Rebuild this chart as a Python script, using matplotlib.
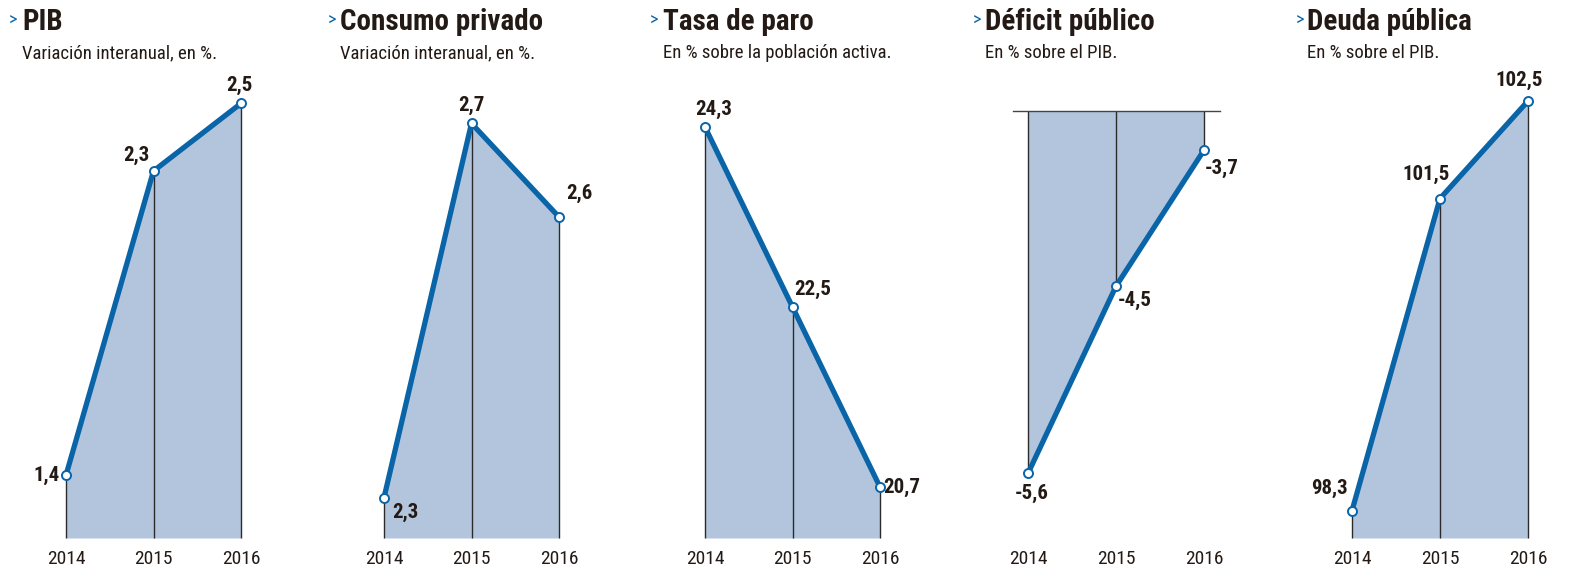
import matplotlib
matplotlib.use('Agg')
import matplotlib.pyplot as plt
from matplotlib import font_manager

# fuente estrecha si existe
fam = 'DejaVu Sans'
for f in ['Liberation Sans Narrow', 'Roboto Condensed', 'Open Sans Condensed']:
    try:
        font_manager.findfont(f, fallback_to_default=False)
        fam = f
        break
    except Exception:
        pass
plt.rcParams['font.family'] = [fam, 'DejaVu Sans']

years = [2014, 2015, 2016]
pib = [1.4, 2.3, 2.5]
consumo = [2.3, 2.7, 2.6]
paro = [24.3, 22.5, 20.7]
deficit = [-5.6, -4.5, -3.7]
deuda = [98.3, 101.5, 102.5]

titles = ['PIB', 'Consumo privado', 'Tasa de paro', 'Déficit público', 'Deuda pública']
subtitles = ['Variación interanual, en %.', 'Variación interanual, en %.',
             'En % sobre la población activa.', 'En % sobre el PIB.', 'En % sobre el PIB.']

W, H = 1586, 572
TXT = '#231a15'
BLUE = '#0a64a8'
FILL = '#b3c5dd'

fig = plt.figure(figsize=(W / 100, H / 100), dpi=100)

# (x 2014, x 2016, y arriba, y abajo) en pixeles
boxes = [(66, 241, 100, 538), (384, 559, 100, 538), (705, 880, 100, 538),
         (1028, 1204, 111, 538), (1352, 1528, 100, 538)]
ylims = [(1.214, 2.51), (2.257, 2.725), (20.19, 24.57), (-5.98, -3.47), (98.02, 102.51)]
title_x = [(9, 22), (328, 340), (650, 663), (973, 985), (1296, 1307)]

# desplazamientos de las etiquetas (px) y alineacion
offs = [
    [(-6, 0, 'right', 'center'), (-4, 6, 'right', 'bottom'), (-2, 8, 'center', 'bottom')],
    [(8, -5, 'left', 'top'), (0, 8, 'center', 'bottom'), (7, 14, 'left', 'bottom')],
    [(-10, 8, 'left', 'bottom'), (2, 8, 'left', 'bottom'), (3, 0, 'left', 'center')],
    [(4, -11, 'center', 'top'), (2, -5, 'left', 'top'), (1, -9, 'left', 'top')],
    [(-4, 13, 'right', 'bottom'), (-14, 15, 'center', 'bottom'), (-9, 11, 'center', 'bottom')],
]

series = [pib, consumo, paro, deficit, deuda]

for i, vals in enumerate(series):
    x0, x1, yt, yb = boxes[i]
    ax = fig.add_axes([x0 / W, 1 - yb / H, (x1 - x0) / W, (yb - yt) / H])
    ax.set_xlim(2014, 2016)
    ax.set_ylim(*ylims[i])
    ax.axis('off')
    lo, hi = ylims[i]
    if i == 3:
        ax.fill_between(years, vals, hi, color=FILL, lw=0, zorder=1)
        ax.vlines(years, vals, hi, color='#2b2b2b', lw=1, zorder=2, clip_on=False)
        ax.plot([2014 - 15 / 88, 2016 + 16 / 88], [hi, hi], color='#444444', lw=1,
                clip_on=False, zorder=2)
    else:
        ax.fill_between(years, vals, lo, color=FILL, lw=0, zorder=1)
        ax.vlines(years, lo, vals, color='#2b2b2b', lw=1, zorder=2, clip_on=False)
    ax.plot(years, vals, color=BLUE, lw=3.8, solid_capstyle='round', zorder=3, clip_on=False)
    ax.plot(years, vals, 'o', ms=6.5, mfc='white', mec=BLUE, mew=1.4, zorder=4, clip_on=False)
    for j, v in enumerate(vals):
        dx, dy, ha, va = offs[i][j]
        ax.annotate(f'{v:.1f}'.replace('.', ','), (years[j], v), xytext=(dx, dy),
                    textcoords='offset pixels', ha=ha, va=va, fontsize=15,
                    fontweight='bold', color=TXT, zorder=5)
    for y in years:
        ax.annotate(str(y), (y, 0), xycoords=('data', 'figure fraction'),
                    xytext=(0, H - 559), textcoords='offset pixels',
                    ha='center', va='center', fontsize=14, color=TXT)
    ax_, tx = title_x[i]
    fig.text(ax_ / W, 1 - 26 / H, '>', color=BLUE, fontsize=13, ha='left', va='baseline')
    fig.text(tx / W, 1 - 30 / H, titles[i], color=TXT, fontsize=21, fontweight='bold',
             ha='left', va='baseline')
    fig.text(tx / W, 1 - 58 / H, subtitles[i], color=TXT, fontsize=13.5,
             ha='left', va='baseline')

fig.savefig('out.png', dpi=100)
